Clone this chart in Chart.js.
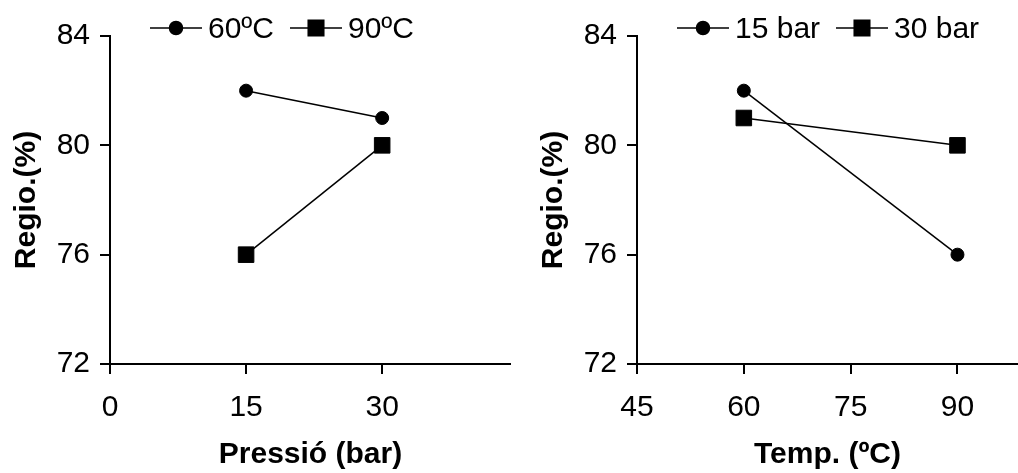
<!DOCTYPE html>
<html>
<head>
<meta charset="utf-8">
<script src="https://cdn.jsdelivr.net/npm/chart.js@4/dist/chart.umd.min.js"></script>
<style>
  body { margin: 0; background: #fff; overflow: hidden; }
  #wrap { position: relative; width: 1018px; height: 473px; }
  canvas { position: absolute; top: 0; }
</style>
</head>
<body>
<div id="wrap">
  <canvas id="left" width="511" height="473" style="left:0"></canvas>
  <canvas id="right" width="509" height="473" style="left:509px"></canvas>
</div>
<script>
// left panel: regio vs pressure
const pressure = [15, 30];
const regio60C = [82, 81];
const regio90C = [76, 80];
const pressureTicks = [0, 15, 30];

// right panel: regio vs temperature
const temperature = [60, 90];
const regio15bar = [82, 76];
const regio30bar = [81, 80];
const tempTicks = [45, 60, 75, 90];

const regioTicks = [72, 76, 80, 84];

const FONT = "Arial, 'Liberation Sans', sans-serif";
Chart.defaults.color = '#000';
Chart.defaults.font.family = FONT;

function toXY(xs, ys) {
    return xs.map((x, i) => ({ x: x, y: ys[i] }));
}

// draws a little "line + marker + text" legend at fixed spots
const lineLegend = {
    id: 'lineLegend',
    afterDraw(chart, args, opts) {
        let ctx = chart.ctx;
        ctx.save();
        chart.data.datasets.forEach((ds, i) => {
            let it = opts.items[i];
            ctx.strokeStyle = '#000';
            ctx.lineWidth = 1.5;
            ctx.beginPath();
            ctx.moveTo(it.x, opts.y);
            ctx.lineTo(it.x + opts.lineLen, opts.y);
            ctx.stroke();
            Chart.helpers.drawPoint(ctx, {
                pointStyle: ds.pointStyle,
                radius: ds.pointStyle === 'rect' ? 11 : 6.5,
                borderWidth: 1
            }, it.x + opts.lineLen / 2, opts.y);
            ctx.fillStyle = '#000';
            ctx.font = '30px ' + FONT;
            ctx.textBaseline = 'middle';
            ctx.fillText(ds.label, it.x + opts.lineLen + 6, opts.y + 2);
        });
        ctx.restore();
    }
};

function series(label, data, style, radius) {
    return {
        label: label,
        data: data,
        borderColor: '#000',
        backgroundColor: '#000',
        borderWidth: 1.5,
        pointStyle: style,
        pointRadius: radius,
        pointBackgroundColor: '#000',
        pointBorderColor: '#000',
        pointBorderWidth: 1,
        fill: false,
        tension: 0
    };
}

function makeChart(id, datasets, xMin, xMax, xTicks, xTitle, yWidth, yTitlePad, legendItems) {
    let ctx = document.getElementById(id).getContext('2d');
    return new Chart(ctx, {
        type: 'line',
        data: { datasets: datasets },
        plugins: [lineLegend],
        options: {
            responsive: false,
            animation: false,
            clip: false,
            layout: { autoPadding: false, padding: { top: 36, right: 0, bottom: 0, left: 0 } },
            plugins: {
                legend: { display: false },
                tooltip: { enabled: false },
                lineLegend: { y: 28, lineLen: 52, items: legendItems }
            },
            scales: {
                x: {
                    type: 'linear',
                    min: xMin,
                    max: xMax,
                    afterBuildTicks: s => { s.ticks = xTicks.map(v => ({ value: v })); },
                    afterFit: s => { s.height = 109; s.paddingRight = 0; s.paddingLeft = 0; },
                    border: { display: true, color: '#000', width: 2 },
                    grid: { drawOnChartArea: false, drawTicks: true, tickLength: 10, color: '#000', lineWidth: 2 },
                    ticks: { font: { size: 30 }, padding: 16, maxRotation: 0 },
                    title: {
                        display: true,
                        text: xTitle,
                        font: { size: 30, weight: 'bold' },
                        padding: { top: 0, bottom: 0 }
                    }
                },
                y: {
                    min: 72,
                    max: 84,
                    afterBuildTicks: s => { s.ticks = regioTicks.map(v => ({ value: v })); },
                    afterFit: s => { s.width = yWidth; },
                    border: { display: true, color: '#000', width: 2 },
                    grid: { drawOnChartArea: false, drawTicks: true, tickLength: 10, color: '#000', lineWidth: 2 },
                    ticks: { font: { size: 30 }, padding: 10 },
                    title: {
                        display: true,
                        text: 'Regio.(%)',
                        font: { size: 30, weight: 'bold' },
                        padding: { top: yTitlePad, bottom: 0 }
                    }
                }
            }
        }
    });
}

makeChart('left', [
    series('60ºC', toXY(pressure, regio60C), 'circle', 6.5),
    series('90ºC', toXY(pressure, regio90C), 'rect', 11)
], 0, 44.2, pressureTicks, 'Pressió (bar)', 110, 9, [{ x: 150 }, { x: 290 }]);

makeChart('right', [
    series('15 bar', toXY(temperature, regio15bar), 'circle', 6.5),
    series('30 bar', toXY(temperature, regio30bar), 'rect', 11)
], 45, 98.5, tempTicks, 'Temp. (ºC)', 128, 27, [{ x: 168 }, { x: 327 }]);
</script>
</body>
</html>
